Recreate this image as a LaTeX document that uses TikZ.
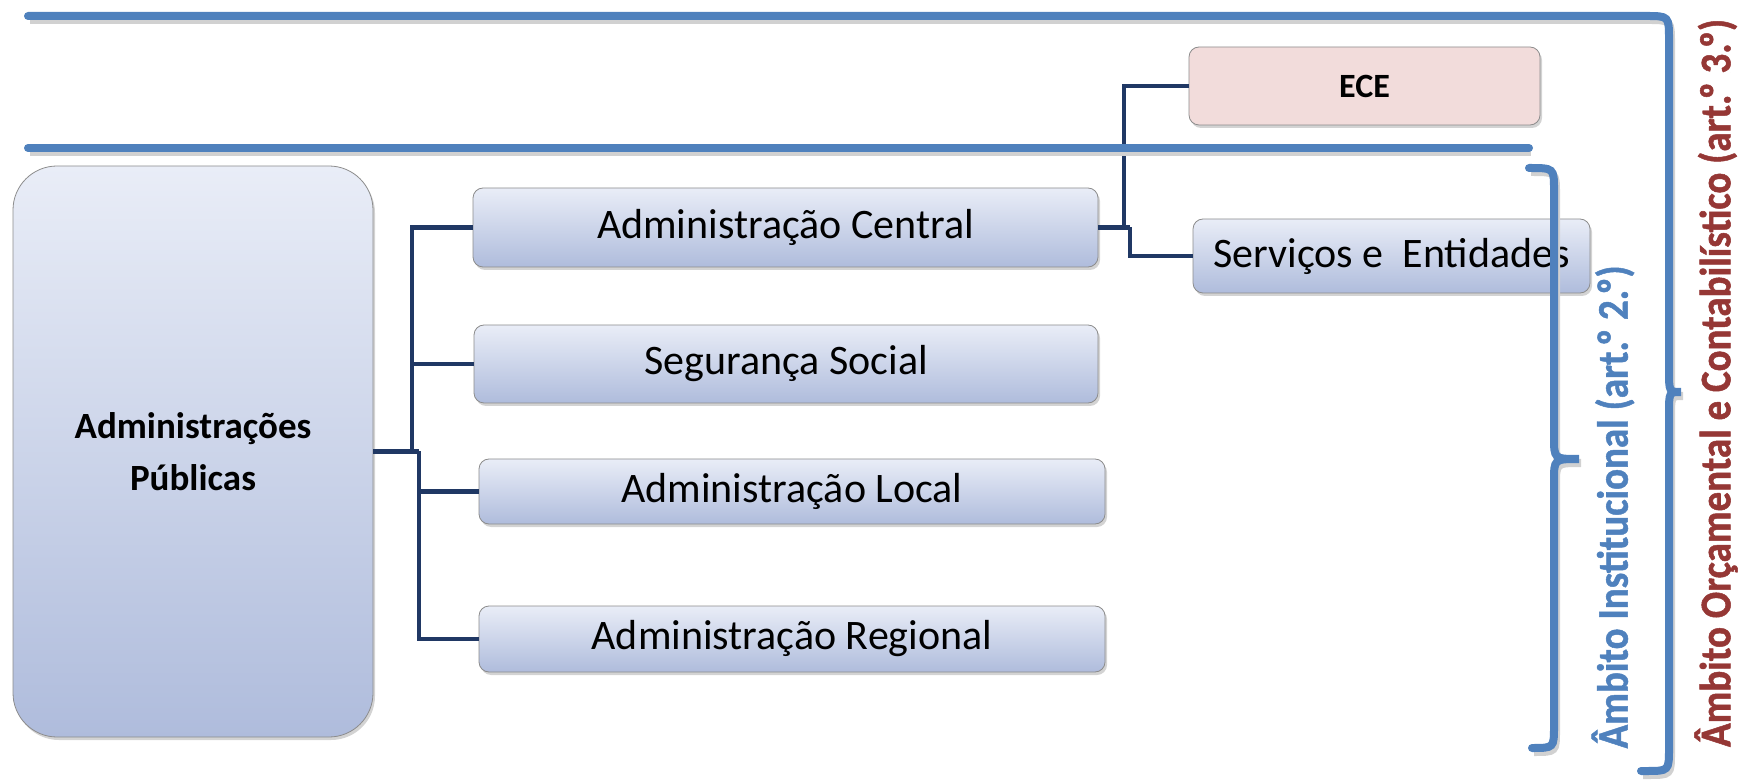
\documentclass[tikz,border=0pt]{standalone}
\usepackage{fontspec}
\setmainfont{Carlito}
\newfontfamily\scopefont{Carlito}[BoldFont=Carlito Bold,BoldFeatures={FakeBold=1.2}]
\usetikzlibrary{calc,positioning,shadows}
\definecolor{linkblue}{HTML}{203864}
\definecolor{bandblue}{HTML}{4F81BD}
\definecolor{darkred}{HTML}{953735}
\definecolor{ecepink}{HTML}{F2DCDB}
\definecolor{boxtop}{HTML}{E9EDF7}
\definecolor{boxbot}{HTML}{AFBCDC}
\newcommand{\ordo}{\kern-0.12em º}
\newcommand{\tallscope}[1]{\scalebox{1}[1.12]{#1}}

\begin{document}
\begin{tikzpicture}[x=0.5pt,y=-0.5pt,
    box/.style={draw=black!45,rounded corners=5pt,top color=boxtop,bottom color=boxbot,inner sep=0pt,font=\fontsize{21}{25}\selectfont,drop shadow={shadow xshift=1pt,shadow yshift=-1.5pt,opacity=0.35}},
    link/.style={draw=linkblue,line width=2.4pt},
    band/.style={draw=bandblue,line width=4pt,line cap=round,preaction={draw=black!18,line width=4pt,transform canvas={shift={(1pt,-2pt)}}}},
    scopetxt/.style={rotate=90,font=\scopefont\bfseries\fontsize{19.5}{23}\selectfont}]
    \useasboundingbox (0,0) rectangle (1756,780);

            \node[box,rounded corners=22pt,minimum width=180pt,minimum height=285.5pt,align=center,font=\bfseries\fontsize{18.5}{26}\selectfont] (ap) at (193,451.5) {Administrações\\Públicas};
            \node[box,minimum width=312.5pt,minimum height=39.5pt] (ac) at (785.5,227.5) {Administração Central};
            \node[box,minimum width=312pt,minimum height=39pt] (ss) at (786,364) {Segurança Social};
            \node[box,minimum width=313pt,minimum height=32.5pt] (al) at (792,491.5) {Administração Local};
            \node[box,minimum width=313pt,minimum height=33pt] (ar) at (792,639) {Administração Regional};
            \node[box,top color=ecepink,bottom color=ecepink,minimum width=175.5pt,minimum height=39pt,font=\bfseries\fontsize{17}{20}\selectfont] (ece) at (1364.5,86) {ECE};
            \node[box,minimum width=198.5pt,minimum height=37pt] (se) at (1391.5,256) {Serviços e\ \ Entidades};

            \coordinate (j1) at (412,451.5);
            \coordinate (j2) at (419,451.5);
            \coordinate (j3) at (1124,227.5);
            \coordinate (j4) at (1130,227.5);

            \draw[link] (ap.east) -- (j2);
            \draw[link] (j1) |- (ac.west);
            \draw[link] (j1) |- (ss.west);
            \draw[link] (j2) |- (al.west);
            \draw[link] (j2) |- (ar.west);
            \draw[link] (ac.east) -- (j4);
            \draw[link] (j3) |- (ece.west);
            \draw[link] (j4) |- (se.west);

            \draw[band] (28,148) -- (1529,148);
            \draw[band] (28,16) -- (1646,16) .. controls (1669,16) .. (1669,40) -- (1669,370) .. controls (1669,392) .. (1681,392) .. controls (1669,392) .. (1669,414) -- (1669,748) .. controls (1669,771) .. (1646,771) -- (1641,771);
            \draw[band] (1529,168) .. controls (1554,168) .. (1554,190) -- (1554,437) .. controls (1554,459) .. (1579,459) .. controls (1554,459) .. (1554,481) -- (1554,726) .. controls (1554,748) .. (1532,748);

            \node[scopetxt,text=darkred] (orc) at (1716,383) {\tallscope{Âmbito Orçamental e Contabilístico (art.\ordo{} 3.\ordo)}};
            \node[scopetxt,text=bandblue] (inst) at (1613,507) {\tallscope{Âmbito Institucional (art.\ordo{} 2.\ordo)}};
\end{tikzpicture}
\end{document}
